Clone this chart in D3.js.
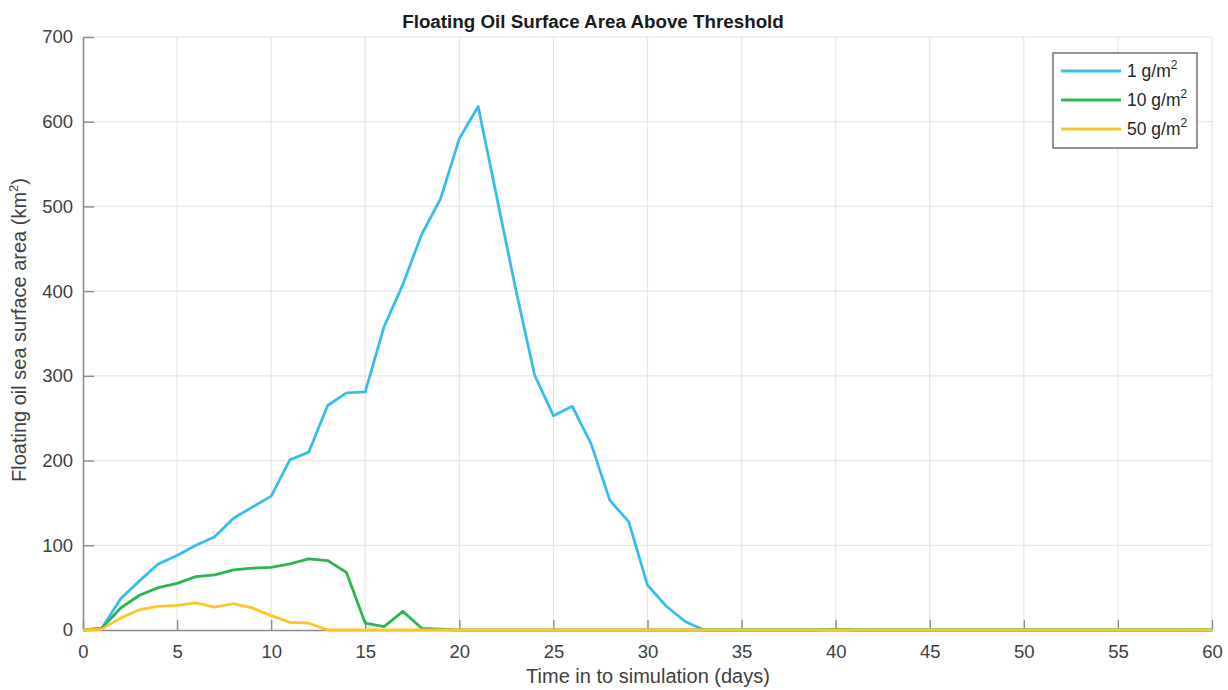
<!DOCTYPE html>
<html>
<head>
<meta charset="utf-8">
<title>Floating Oil Surface Area Above Threshold</title>
<script src="https://d3js.org/d3.v7.min.js"></script>
<style>
  body { margin: 0; background: #fff; }
  text { font-family: "Liberation Sans", Arial, sans-serif; }
</style>
</head>
<body>
<script>
// days 0..60
var days = d3.range(0, 61);

var area1 = [0, 2, 37, 58, 78, 88, 100, 110, 132, 145, 158, 201, 210, 265, 280, 281, 358, 408, 467, 509,
             580, 618, 510, 402, 301, 253, 264, 220, 153, 128, 53, 28, 10, 0, 0, 0, 0, 0, 0, 0,
             0, 0, 0, 0, 0, 0, 0, 0, 0, 0, 0, 0, 0, 0, 0, 0, 0, 0, 0, 0, 0];
var area10 = [0, 2, 26, 41, 50, 55, 63, 65, 71, 73, 74, 78, 84, 82, 68, 8, 4, 22, 2, 1,
              0, 0, 0, 0, 0, 0, 0, 0, 0, 0, 0, 0, 0, 0, 0, 0, 0, 0, 0, 0,
              1, 0, 0, 0, 0, 0, 0, 0, 0, 0, 0, 0, 0, 0, 0, 0, 0, 0, 0, 0, 0];
var area50 = [0, 1, 14, 24, 28, 29, 32, 27, 31, 26, 17, 9, 8, 0, 0, 0, 0, 0, 0, 0,
              0, 0, 0, 0, 0, 0, 0, 0, 0, 0, 0, 0, 0, 0, 0, 0, 0, 0, 0, 0,
              0, 0, 0, 0, 0, 0, 0, 0, 0, 0, 0, 0, 0, 0, 0, 0, 0, 0, 0, 0, 0];

var seriesNames = ["1", "10", "50"];
var seriesColors = ["#35bdf0", "#2cb552", "#fdc52b"];
var seriesData = [area1, area10, area50];

var xTicks = d3.range(0, 61, 5);
var yTicks = d3.range(0, 701, 100);

var W = 1228, H = 690;
var margin = {top: 37, right: 16, bottom: 60, left: 83};
var width = W - margin.left - margin.right,
    height = H - margin.top - margin.bottom;

var svg = d3.select("body").append("svg")
    .attr("width", W)
    .attr("height", H);

var g = svg.append("g")
    .attr("transform", "translate(" + margin.left + "," + margin.top + ")");

var x = d3.scaleLinear().domain([0, 60]).range([0, width]);
var y = d3.scaleLinear().domain([0, 700]).range([height, 0]);

// grid
g.append("g").selectAll("line").data(xTicks.slice(1)).enter().append("line")
    .attr("x1", function(d) { return x(d); })
    .attr("x2", function(d) { return x(d); })
    .attr("y1", 0).attr("y2", height)
    .attr("stroke", "#e6e6e6").attr("stroke-width", 1.2);
g.append("g").selectAll("line").data(yTicks.slice(1)).enter().append("line")
    .attr("y1", function(d) { return y(d); })
    .attr("y2", function(d) { return y(d); })
    .attr("x1", 0).attr("x2", width)
    .attr("stroke", "#e6e6e6").attr("stroke-width", 1.2);

// axes (MATLAB style: ticks point inward)
var xAxis = d3.axisBottom(x).tickValues(xTicks).tickSizeInner(-10).tickSizeOuter(0).tickPadding(15);
var yAxis = d3.axisLeft(y).tickValues(yTicks).tickSizeInner(-11).tickSizeOuter(0).tickPadding(10);

var xg = g.append("g").attr("transform", "translate(0," + height + ")").call(xAxis);
var yg = g.append("g").call(yAxis);

[xg, yg].forEach(function(ax) {
    ax.select(".domain").attr("stroke", "#8c8c8c").attr("stroke-width", 1.6);
    ax.selectAll(".tick line").attr("stroke", "#8c8c8c").attr("stroke-width", 1.4);
    ax.selectAll(".tick text").attr("fill", "#404040")
        .style("font-size", "18.5px")
        .style("font-family", "'Liberation Sans', Arial, sans-serif");
});

// lines
var line = d3.line()
    .x(function(d, i) { return x(days[i]); })
    .y(function(d) { return y(d); });

seriesData.forEach(function(s, k) {
    g.append("path")
        .datum(s)
        .attr("fill", "none")
        .attr("stroke", seriesColors[k])
        .attr("stroke-width", 2.8)
        .attr("stroke-linejoin", "round")
        .attr("d", line);
});

// title
svg.append("text")
    .attr("x", 593)
    .attr("y", 28)
    .attr("text-anchor", "middle")
    .style("font-size", "18.8px")
    .style("font-weight", "bold")
    .attr("fill", "#1a1a1a")
    .text("Floating Oil Surface Area Above Threshold");

// x label
svg.append("text")
    .attr("x", 648)
    .attr("y", 683)
    .attr("text-anchor", "middle")
    .style("font-size", "20px")
    .attr("fill", "#404040")
    .text("Time in to simulation (days)");

// y label
var yl = svg.append("text")
    .attr("transform", "translate(26,330) rotate(-90)")
    .attr("text-anchor", "middle")
    .style("font-size", "20px")
    .attr("fill", "#404040");
yl.append("tspan").text("Floating oil sea surface area (km");
yl.append("tspan").attr("dy", -8).style("font-size", "13px").text("2");
yl.append("tspan").attr("dy", 8).text(")");

// legend
var lg = svg.append("g").attr("transform", "translate(1053,53)");
lg.append("rect")
    .attr("width", 144).attr("height", 95)
    .attr("fill", "#fff")
    .attr("stroke", "#707070").attr("stroke-width", 1.5);

seriesNames.forEach(function(n, k) {
    var row = lg.append("g").attr("transform", "translate(0," + (18 + k * 29) + ")");
    row.append("line")
        .attr("x1", 8).attr("x2", 68)
        .attr("stroke", seriesColors[k]).attr("stroke-width", 2.8);
    var t = row.append("text")
        .attr("x", 74).attr("y", 6)
        .style("font-size", "17.5px")
        .attr("fill", "#262626");
    t.append("tspan").text(n + " g/m");
    t.append("tspan").attr("dy", -8).style("font-size", "12px").text("2");
});
</script>
</body>
</html>
